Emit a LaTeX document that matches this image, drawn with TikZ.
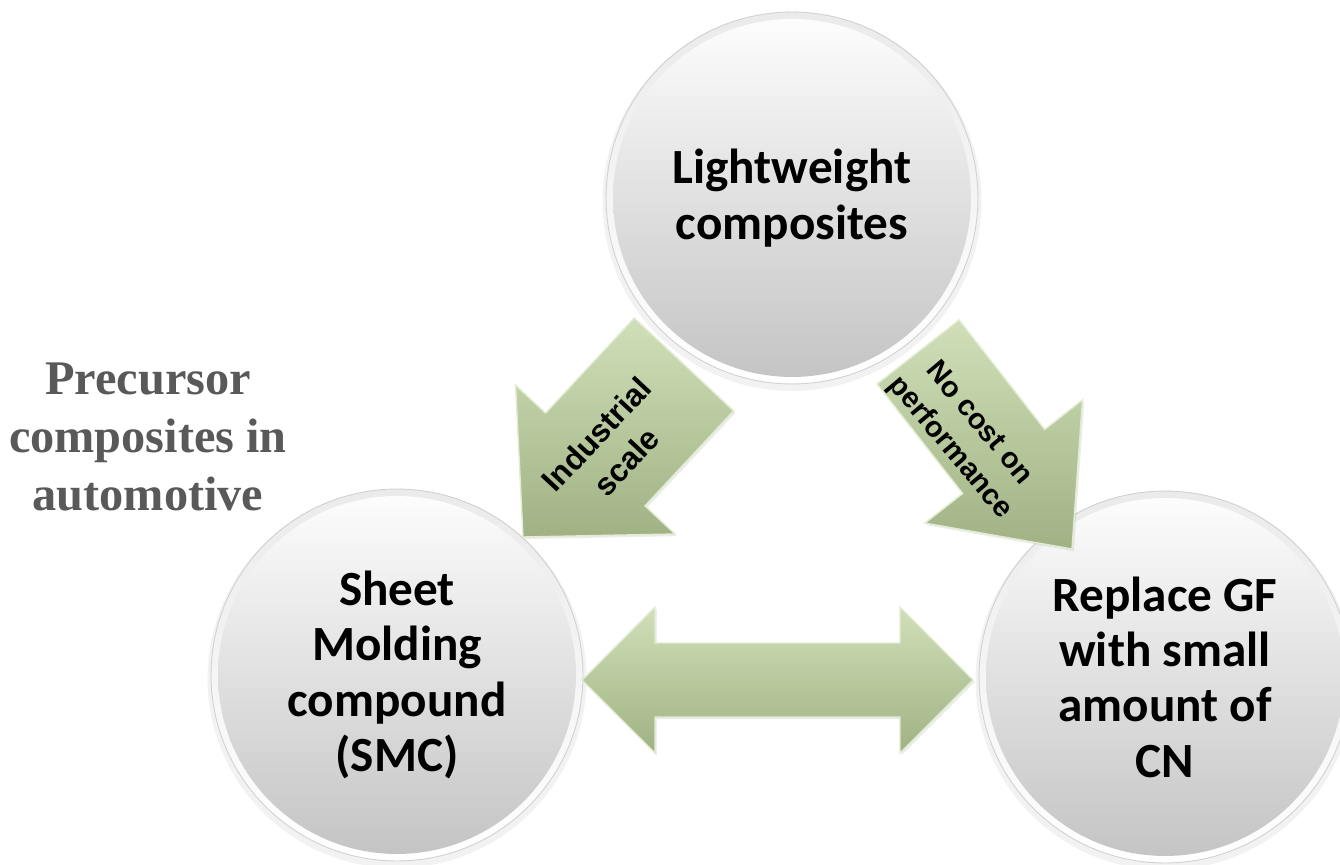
\documentclass[tikz,border=0pt]{standalone}
\usepackage{fontspec}
\setmainfont{Liberation Serif}
\newfontfamily\calib{Carlito}
\newfontfamily\arialf{Liberation Sans}
\usetikzlibrary{shadows}
\definecolor{leafhi}{RGB}{208,223,184}
\definecolor{leaflo}{RGB}{160,178,132}
\definecolor{leafedge}{RGB}{226,236,210}
\definecolor{capgray}{RGB}{89,89,89}
\begin{document}
\begin{tikzpicture}[x=0.02cm, y=-0.02cm,
  rim/.style={top color=black!8, bottom color=white, draw=black!18, line width=0.5pt},
  face/.style={circle, minimum size=7.16cm, inner sep=0pt, align=center,
     top color=black!1, bottom color=black!23,
     font=\calib\bfseries\fontsize{28}{31.5}\selectfont},
  blockarrow/.style={top color=leafhi, bottom color=leaflo, draw=leafedge,
     line width=0.8pt, line join=miter,
     drop shadow={shadow xshift=1pt, shadow yshift=-1.2pt, opacity=0.15}},
  tag/.style={align=center, inner sep=0pt,
     font=\arialf\bfseries\fontsize{18}{23}\selectfont},
  side/.style={align=center, inner sep=0pt, text=capgray,
     font=\bfseries\fontsize{27.5}{33}\selectfont}
]
\clip (0,0) rectangle (1340,865);
\fill[white] (0,0) rectangle (1340,865);

% bubble centres
\coordinate (c1) at (792,198);
\coordinate (c2) at (397,675);
\coordinate (c3) at (1165,677);

% soft shadow and bevelled rim behind each bubble
\foreach \c in {c1,c2,c3}{
  \fill[black, opacity=0.05] ([yshift=-2pt]\c) circle[radius=3.79cm];
  \path[rim] (\c) circle[radius=3.72cm];
}

% bubbles
\node[face] (lw)  at (c1) {Lightweight\\composites};
\node[face] (smc) at (c2) {Sheet\\Molding\\compound\\(SMC)};
\node[face] (cn)  at (c3) {Replace GF\\with small\\amount of\\CN};

% block arrow: top bubble towards SMC
\path[blockarrow] (523,537) -- (515.6,385.2) -- (545.6,413.1) -- (634.3,318.1)
  -- (733.7,410.9) -- (645,505.9) -- (675,534) -- cycle;

% block arrow: top bubble towards CN
\path[blockarrow] (1072,549) -- (924.9,523.1) -- (962.7,493.5) -- (877.1,384)
  -- (959.1,320) -- (1044.7,429.5) -- (1082.5,399.9) -- cycle;

% double block arrow between SMC and CN
\path[blockarrow] (582,680) -- (655,607) -- (655,643) -- (900,643) -- (900,607)
  -- (973,680) -- (900,753) -- (900,717) -- (655,717) -- (655,753) -- cycle;

% arrow labels
\node[tag, rotate=47] (ind) at (611,448) {Industrial\\scale};
\node[tag, rotate=-50, font=\arialf\bfseries\fontsize{16.5}{21.5}\selectfont]
  (perf) at (964,436) {No cost on\\performance};

% side caption
\node[side] (pre) at (148,437) {Precursor\\composites in\\automotive};
\end{tikzpicture}
\end{document}
